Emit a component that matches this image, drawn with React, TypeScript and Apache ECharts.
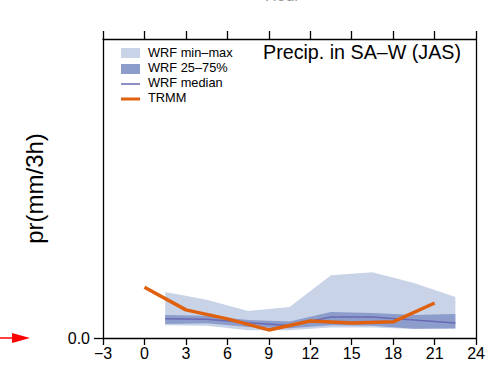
import React, { useEffect, useRef } from "react";
import * as echarts from "echarts";

const wrfHours = [1.5, 4.5, 7.5, 10.5, 13.5, 16.5, 19.5, 22.5];
const wrfMin = [0.043, 0.041, 0.026, 0.026, 0.035, 0.035, 0.03, 0.03];
const wrfMax = [0.154, 0.128, 0.09, 0.104, 0.21, 0.22, 0.184, 0.137];
const wrfP25 = [0.047, 0.049, 0.037, 0.033, 0.043, 0.041, 0.031, 0.033];
const wrfP75 = [0.077, 0.074, 0.06, 0.055, 0.087, 0.084, 0.077, 0.08];
const wrfMedian = [0.064, 0.063, 0.051, 0.042, 0.07, 0.07, 0.06, 0.05];
const trmmHours = [0, 3, 6, 9, 12, 15, 18, 21];
const trmmValues = [0.17, 0.094, 0.064, 0.027, 0.057, 0.05, 0.054, 0.117];
const xTicks = [-3, 0, 3, 6, 9, 12, 15, 18, 21, 24];

const FONT = "Liberation Sans, Arial, sans-serif";
const LIGHT = "#c8d3e7";
const DARK = "#8c9ccb";
const MED = "#6a6ab4";
const ORANGE = "#df600e";

function band(lower: number[], upper: number[], color: string) {
  return {
    type: "custom",
    silent: true,
    clip: true,
    data: [[wrfHours[0], lower[0]]],
    renderItem: (_params: any, api: any) => {
      const top = wrfHours.map((x, i) => api.coord([x, upper[i]]));
      const bot = wrfHours.map((x, i) => api.coord([x, lower[i]])).reverse();
      return { type: "polygon", shape: { points: [...top, ...bot] }, style: { fill: color } };
    },
  };
}

export default function App() {
  const ref = useRef<HTMLDivElement>(null);
  useEffect(() => {
    if (!ref.current) return;
    const chart = echarts.init(ref.current, undefined, { renderer: "svg" });
    const pair = (xs: number[], ys: number[]) => xs.map((x, i) => [x, ys[i]]);
    const lineAx = { show: true, onZero: false, lineStyle: { color: "#000", width: 1.3 } };
    chart.setOption({
      animation: false,
      grid: { left: 103, right: 7, top: 39, bottom: 29 },
      xAxis: [
        {
          type: "value", min: -3, max: 24, interval: 3, position: "bottom",
          axisLine: lineAx,
          axisTick: { show: true, inside: false, length: 7, lineStyle: { color: "#000", width: 1.3 } },
          axisLabel: { show: true, fontFamily: FONT, fontSize: 16, color: "#000", margin: 7,
            formatter: (v: number) => (xTicks.includes(v) ? (v < 0 ? "\u2212" + Math.abs(v) : String(v)) : "") },
          splitLine: { show: false },
        },
        {
          type: "value", min: -3, max: 24, interval: 3, position: "top",
          axisLine: lineAx,
          axisTick: { show: true, inside: false, length: 8, lineStyle: { color: "#000", width: 1.3 } },
          axisLabel: { show: false },
          splitLine: { show: false },
        },
      ],
      yAxis: [
        {
          type: "value", min: 0, max: 1, interval: 1, position: "left",
          axisLine: lineAx,
          axisTick: { show: true, inside: false, length: 9, customValues: [0], lineStyle: { color: "#000", width: 1.3 } },
          axisLabel: { show: true, customValues: [0], fontFamily: FONT, fontSize: 16, color: "#000", margin: 13,
            formatter: () => "0.0" },
          splitLine: { show: false },
          name: "pr(mm/3h)", nameLocation: "middle", nameGap: 57, nameRotate: 90,
          nameTextStyle: { fontFamily: FONT, fontSize: 24, color: "#000" },
        },
        {
          type: "value", min: 0, max: 1, interval: 1, position: "right",
          axisLine: lineAx,
          axisTick: { show: false }, axisLabel: { show: false }, splitLine: { show: false },
        },
      ],
      series: [
        { ...band(wrfMin, wrfMax, LIGHT), name: "WRF min-max" },
        { ...band(wrfP25, wrfP75, DARK), name: "WRF 25-75%" },
        { type: "line", symbol: "none", silent: true, name: "WRF median", data: pair(wrfHours, wrfMedian), lineStyle: { color: MED, width: 1.5 } },
        { type: "line", symbol: "none", silent: true, name: "TRMM", data: pair(trmmHours, trmmValues), lineStyle: { color: ORANGE, width: 3.5 } },
      ],
      graphic: [
        { type: "text", left: 265, top: -13, style: { text: "Hour", fontFamily: FONT, fontSize: 16, fill: "#999" } },
        { type: "text", left: 263, top: 42, style: { text: "Precip. in SA\u2013W (JAS)", fontFamily: FONT, fontSize: 19.7, fill: "#000" } },
        { type: "rect", shape: { x: 121, y: 48, width: 19, height: 10 }, style: { fill: LIGHT } },
        { type: "rect", shape: { x: 121, y: 64, width: 19, height: 10 }, style: { fill: DARK } },
        { type: "line", shape: { x1: 121, y1: 84, x2: 140, y2: 84 }, style: { stroke: MED, lineWidth: 1.5 } },
        { type: "line", shape: { x1: 121, y1: 99, x2: 140, y2: 99 }, style: { stroke: ORANGE, lineWidth: 3 } },
        { type: "text", left: 148, top: 46, style: { text: "WRF min\u2013max", fontFamily: FONT, fontSize: 12.8, fill: "#000" } },
        { type: "text", left: 148, top: 61, style: { text: "WRF 25\u201375%", fontFamily: FONT, fontSize: 12.8, fill: "#000" } },
        { type: "text", left: 148, top: 76, style: { text: "WRF median", fontFamily: FONT, fontSize: 12.8, fill: "#000" } },
        { type: "text", left: 148, top: 91, style: { text: "TRMM", fontFamily: FONT, fontSize: 12.8, fill: "#000" } },
        { type: "line", shape: { x1: 0, y1: 338, x2: 16, y2: 338 }, style: { stroke: "#ff0000", lineWidth: 1.5 } },
        { type: "polygon", shape: { points: [[12, 333], [30, 338], [12, 343]] }, style: { fill: "#ff0000" } },
      ],
    });
    return () => chart.dispose();
  }, []);
  return <div ref={ref} style={{ width: 488, height: 367, position: "absolute", left: 0, top: 0 }} />;
}
